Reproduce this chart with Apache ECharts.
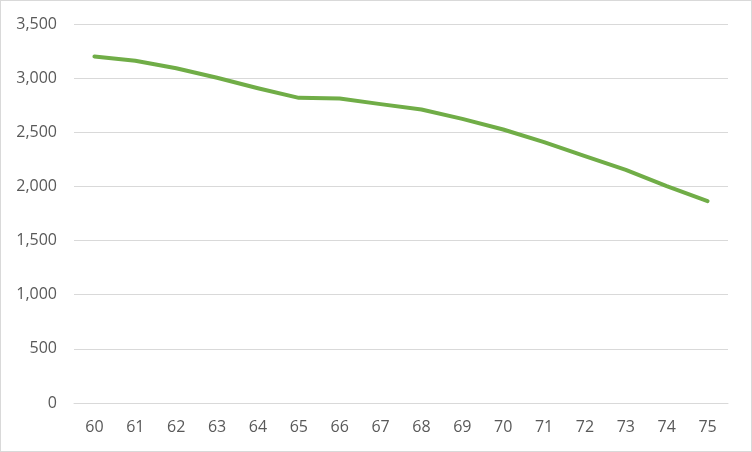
<!DOCTYPE html>
<html>
<head>
<meta charset="utf-8">
<script src="https://cdn.jsdelivr.net/npm/echarts@6/dist/echarts.min.js"></script>
<style>
html,body{margin:0;padding:0;background:#fff;}
#c{width:752px;height:452px;box-sizing:border-box;border:1px solid #d9d9d9;}
</style>
</head>
<body>
<div id="c"></div>
<script>
const categories = ['60','61','62','63','64','65','66','67','68','69','70','71','72','73','74','75'];
const values = [3200, 3160, 3092, 3003, 2907, 2818, 2812, 2760, 2710, 2624, 2526, 2409, 2279, 2153, 2002, 1864];

const chart = echarts.init(document.getElementById('c'));
chart.setOption({
  animation: false,
  grid: {left: 73, right: 23, top: 23, bottom: 48, containLabel: false},
  xAxis: {
    type: 'category',
    data: categories,
    boundaryGap: true,
    axisLine: {show: true, lineStyle: {color: '#d9d9d9', width: 1}},
    axisTick: {show: false},
    axisLabel: {color: '#595959', fontSize: 16, fontFamily: 'Open Sans, sans-serif', margin: 16}
  },
  yAxis: {
    type: 'value',
    min: 0, max: 3500, interval: 500,
    axisLine: {show: false},
    axisTick: {show: false},
    splitLine: {lineStyle: {color: '#d9d9d9', width: 1}},
    axisLabel: {
      color: '#595959', fontSize: 16, fontFamily: 'Open Sans, sans-serif', margin: 17,
      formatter: v => v.toLocaleString('en-US')
    }
  },
  series: [{
    type: 'line',
    data: values,
    symbol: 'none',
    lineStyle: {color: '#70ad47', width: 4, cap: 'round', join: 'round'}
  }]
});
</script>
</body>
</html>
